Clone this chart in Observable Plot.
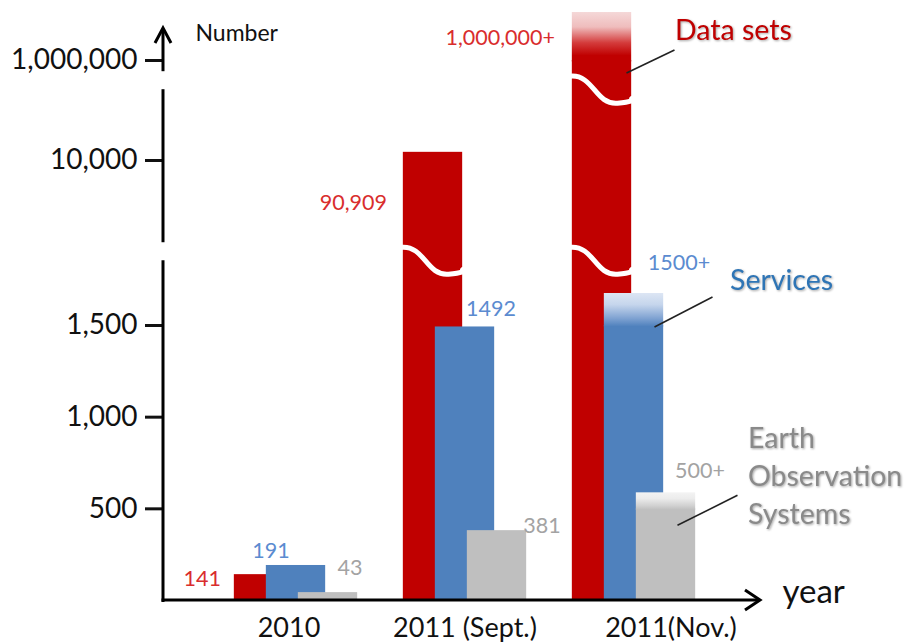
<!DOCTYPE html>
<html>
<head>
<meta charset="utf-8">
<script src="https://cdn.jsdelivr.net/npm/d3@7"></script>
<script src="https://cdn.jsdelivr.net/npm/@observablehq/plot@0.6"></script>
<style>
  html, body { margin: 0; padding: 0; background: #fff; }
  svg { display: block; }
</style>
</head>
<body>
<div id="chart"></div>
<script>
// ---------------- data ----------------
const groups = ["2010", "2011 (Sept.)", "2011(Nov.)"];
const dataSets = [141, 90909, 1000000];
const services = [191, 1492, 1500];
const eoSystems = [43, 381, 500];
const atLeast = [false, false, true];            // "+" : value is a lower bound
const seriesNames = ["Data sets", "Services", "Earth\nObservation\nSystems"];
const yTicks = [500, 1000, 1500, 10000, 1000000];
const yDomain = [0, 1500, 10000, 1000000];       // broken (piecewise) value axis
const yBreaks = [5300, 800000];                  // where the axis is broken

// ---------------- layout & style ----------------
const W = 914, H = 642;
const yRange = [600, 325, 160, 60];
const xRange = [210, 719];
const BAR = 60;
const FONT = "Lato, 'Open Sans', 'DejaVu Sans', sans-serif";
const bandW = (xRange[1] - xRange[0]) / groups.length;
const inset = (bandW - BAR) / 2;

const S = [
  {values: dataSets, name: seriesNames[0], fill: "#c00000", text: "#d92d2d", nameFill: "#c00000",
   dx: -32, fmt: d3.format(","), cap: 48, anchor: "end",
   stops: [[0, "#f5d8d8"], [0.3, "#efbdbd"], [0.62, "#d43c3c"], [0.88, "#c00000"]],
   nudge: [[-75, 4], [-78, 51], [-79, -22]], nameDx: 41, nameDy: -33, lead: [[-5, 13], [43, -10]]},
  {values: services, name: seriesNames[1], fill: "#4f81bd", text: "#5b8bd0", nameFill: "#2e75b6",
   dx: 0, fmt: d3.format("d"), cap: 32, anchor: "middle",
   stops: [[0, "#dde6f4"], [0.35, "#c5d5ec"], [0.75, "#80a3d2"], [1, "#4f81bd"]],
   nudge: [[-25, -14], [26, -18], [45, -62]], nameDx: 96, nameDy: -48, lead: [[-9, 2], [49, -28]]},
  {values: eoSystems, name: seriesNames[2], fill: "#bfbfbf", text: "#a3a3a3", nameFill: "#8a8a8a",
   dx: 32, fmt: d3.format("d"), cap: 16, anchor: "middle",
   stops: [[0, "#f3f3f3"], [0.35, "#ececec"], [0.75, "#d2d2d2"], [1, "#bfbfbf"]],
   nudge: [[54, -25], [77, -5], [66, -38]], nameDx: 114, nameDy: -35, lead: [[-18, 17], [42, -13]]}
];
const xNudge = [-7, 0, 37];

// helper for custom drawn decorations using Plot's scales
function decor(draw) {
  return (index, scales, values, dimensions) => {
    const g = d3.create("svg:g");
    draw(g, scales, dimensions);
    return g.node();
  };
}
const bwOf = (x) => (x.bandwidth ? x.bandwidth() : bandW);
const barLeft = (x, group, s) => x(group) + bwOf(x) / 2 + s.dx - BAR / 2;

const marks = [];

// gradient defs for "+" caps
marks.push(() => {
  const defs = d3.create("svg:defs");
  S.forEach((s, k) => {
    const lg = defs.append("linearGradient").attr("id", "cap" + k)
      .attr("x1", 0).attr("y1", 0).attr("x2", 0).attr("y2", 1);
    s.stops.forEach(([o, c]) => lg.append("stop").attr("offset", o).attr("stop-color", c));
  });
  return defs.node();
});

S.forEach((s, k) => {
  const rows = groups.map((group, i) => ({group, value: s.values[i], plus: atLeast[i]}));
  marks.push(Plot.barY(rows, {
    x: "group", y1: 0, y2: "value", fill: s.fill, dx: s.dx,
    insetLeft: inset, insetRight: inset
  }));
  marks.push(Plot.barY(rows.filter(d => d.plus), {
    x: "group", y1: "value", y2: "value", fill: `url(#cap${k})`, dx: s.dx,
    insetLeft: inset, insetRight: inset, insetTop: -s.cap, insetBottom: -1.5
  }));
  if (k === 0) {
    // wavy break symbols across bars that pass an axis break
    marks.push(decor((g, {x, y}) => {
      groups.forEach((group, i) => {
        yBreaks.filter(b => s.values[i] > b).forEach(b => {
          const x0 = barLeft(x, group, s), yb = y(b);
          g.append("path")
            .attr("d", `M${x0 - 1},${yb - 4} C${x0 + 22},${yb - 6} ${x0 + 24},${yb + 25} ${x0 + 46},${yb + 23} S${x0 + 57},${yb + 19} ${x0 + BAR + 1},${yb + 18}`)
            .attr("fill", "none").attr("stroke", "#fff").attr("stroke-width", 5);
        });
      });
    }));
  }
});

// value labels
S.forEach((s) => {
  groups.forEach((group, i) => {
    const [dx, dy] = s.nudge[i];
    marks.push(Plot.text([{group, value: s.values[i], label: s.fmt(s.values[i]) + (atLeast[i] ? "+" : "")}], {
      x: "group", y: "value", text: "label", dx, dy, textAnchor: s.anchor,
      lineAnchor: "middle", fill: s.text, fontSize: 21.5
    }));
  });
});

// series names with leader lines (at the last group)
const last = groups.length - 1;
S.forEach((s) => {
  marks.push(Plot.text([{group: groups[last], value: s.values[last]}], {
    x: "group", y: "value", text: () => s.name, textAnchor: "start", lineAnchor: "middle",
    dx: s.nameDx, dy: s.nameDy, fill: s.nameFill, fontSize: 28.5, lineHeight: 1.33
  }));
});
marks.push(decor((g, {x, y}) => {
  S.forEach((s) => {
    const right = barLeft(x, groups[last], s) + BAR;
    const yv = y(s.values[last]);
    const [[ax, ay], [bx, by]] = s.lead;
    g.append("line").attr("x1", right + ax).attr("y1", yv + ay).attr("x2", right + bx).attr("y2", yv + by)
      .attr("stroke", "#222").attr("stroke-width", 1.6);
  });
}));

// axes
marks.push(Plot.axisY(yTicks, {
  anchor: "left", tickSize: 18, tickPadding: 8, tickFormat: d3.format(","),
  fontSize: 28, color: "#111", strokeWidth: 3, label: null
}));
groups.forEach((g, i) => {
  marks.push(Plot.text([g], {x: d => d, text: d => d, frameAnchor: "bottom", lineAnchor: "top",
    dy: 17, dx: xNudge[i], fontSize: 27, fill: "#111"}));
});
marks.push(Plot.text(["year"], {text: d => d, frameAnchor: "bottom-right", textAnchor: "start",
  lineAnchor: "middle", dx: 22, dy: -8, fontSize: 33, fill: "#111"}));
marks.push(Plot.text(["Number"], {text: d => d, frameAnchor: "top-left", textAnchor: "start",
  lineAnchor: "middle", dx: 32, dy: 5, fontSize: 23, fill: "#111"}));

marks.push(decor((g, {y}, {marginLeft, marginRight, marginTop, width}) => {
  const ax = marginLeft, y0 = y(0), xEnd = width - marginRight;
  const gaps = yBreaks.map(b => y(b)).sort((a, b) => b - a);
  let start = y0 + 2;
  const segs = [];
  for (const gy of gaps) { segs.push([start, gy + 9]); start = gy - 9; }
  segs.push([start, marginTop + 1]);
  const st = (sel) => sel.attr("stroke", "#000").attr("stroke-width", 3).attr("fill", "none");
  segs.forEach(([a, b]) => st(g.append("line").attr("x1", ax).attr("x2", ax).attr("y1", a).attr("y2", b)));
  st(g.append("path").attr("d", `M${ax - 8},${marginTop + 15} L${ax},${marginTop} L${ax + 8},${marginTop + 15}`))
    .attr("stroke-linejoin", "miter");
  st(g.append("line").attr("x1", ax - 1.5).attr("x2", xEnd - 1).attr("y1", y0).attr("y2", y0));
  st(g.append("path").attr("d", `M${xEnd - 15},${y0 - 10} L${xEnd},${y0} L${xEnd - 15},${y0 + 10}`));
}));

const chart = Plot.plot({
  width: W, height: H,
  marginLeft: 163, marginRight: 154, marginTop: 28, marginBottom: 42,
  x: {type: "band", domain: groups, range: xRange, padding: 0, axis: null},
  y: {type: "linear", domain: yDomain, range: yRange, label: null},
  style: {fontFamily: FONT, background: "#fff", color: "#111", overflow: "visible"},
  marks
});

// soft shadow on series names
const plain = seriesNames.map(n => n.replace(/\n/g, ""));
d3.select(chart).selectAll("text").each(function () {
  if (plain.includes(this.textContent)) {
    d3.select(this).style("filter", "drop-shadow(1.5px 1.5px 1.2px rgba(0,0,0,0.35))");
  }
});

document.getElementById("chart").appendChild(chart);
</script>
</body>
</html>
